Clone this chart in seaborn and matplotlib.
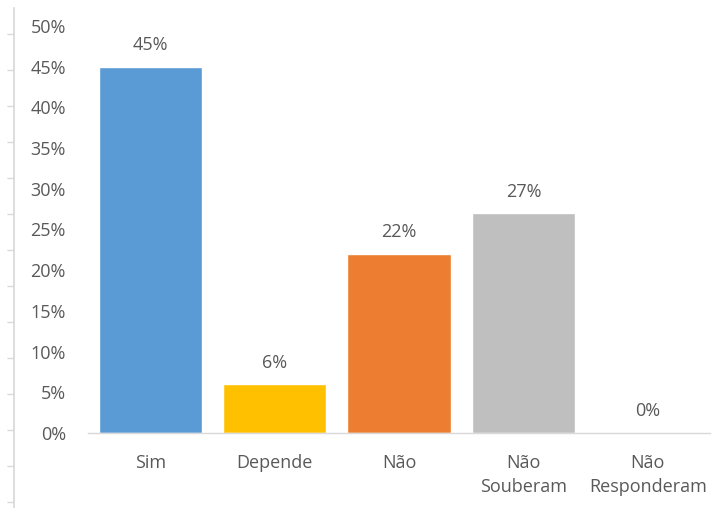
import numpy as np
import pandas as pd
import matplotlib
matplotlib.use("Agg")
import matplotlib.pyplot as plt
import seaborn as sns

categories = ["Sim", "Depende", "Não", "Não\nSouberam", "Não\nResponderam"]
values = [0.45, 0.06, 0.22, 0.27, 0.0]
colors = ["#5B9BD5", "#FFC000", "#ED7D31", "#BFBFBF", "#A5A5A5"]
y_ticks = [0.0, 0.05, 0.10, 0.15, 0.20, 0.25, 0.30, 0.35, 0.40, 0.45, 0.50]

sns.set_theme(style="white")
plt.rcParams["font.family"] = ["Open Sans", "DejaVu Sans"]
text_color = "#595959"
line_color = "#D9D9D9"
fs = 13

df = pd.DataFrame({"cat": categories, "val": values})

W, H = 716, 508
fig = plt.figure(figsize=(W / 100, H / 100), dpi=100)
ax = fig.add_axes([88 / W, 1 - 433 / H, (710 - 88) / W, (433 - 26) / H])

sns.barplot(data=df, x="cat", y="val", hue="cat", palette=colors,
            width=0.83, legend=False, ax=ax, saturation=1)

ax.set_ylim(0, 0.5)
ax.set_yticks(y_ticks)
ax.set_yticklabels([f"{int(round(t * 100))}%" for t in y_ticks])
ax.set_xlabel("")
ax.set_ylabel("")
for s in ["top", "right", "left"]:
    ax.spines[s].set_visible(False)
ax.spines["bottom"].set_color(line_color)
ax.spines["bottom"].set_linewidth(1.0)
ax.tick_params(axis="y", length=0, pad=16, labelsize=fs, labelcolor=text_color)
ax.tick_params(axis="x", length=0, pad=15, labelsize=fs, labelcolor=text_color)
for lbl in ax.get_xticklabels():
    lbl.set_linespacing(1.45)

for i, v in enumerate(values):
    ax.annotate(f"{int(round(v * 100))}%", (i, v), xytext=(0, 9),
                textcoords="offset points", ha="center", va="bottom",
                fontsize=fs, color=text_color)

# Outer vertical rule with small tick marks on the left edge
side = fig.add_axes([14 / W, 0, 0.0001, 1 - 8 / H])
side.set_ylim(0, 500)
side.set_yticks(np.arange(6, 500, 36))
side.set_yticklabels([])
side.set_xticks([])
side.patch.set_visible(False)
for s in ["top", "right", "bottom"]:
    side.spines[s].set_visible(False)
side.spines["left"].set_color(line_color)
side.tick_params(axis="y", left=True, length=5, width=1, color=line_color,
                 direction="out")

fig.savefig("out.png", dpi=100)
